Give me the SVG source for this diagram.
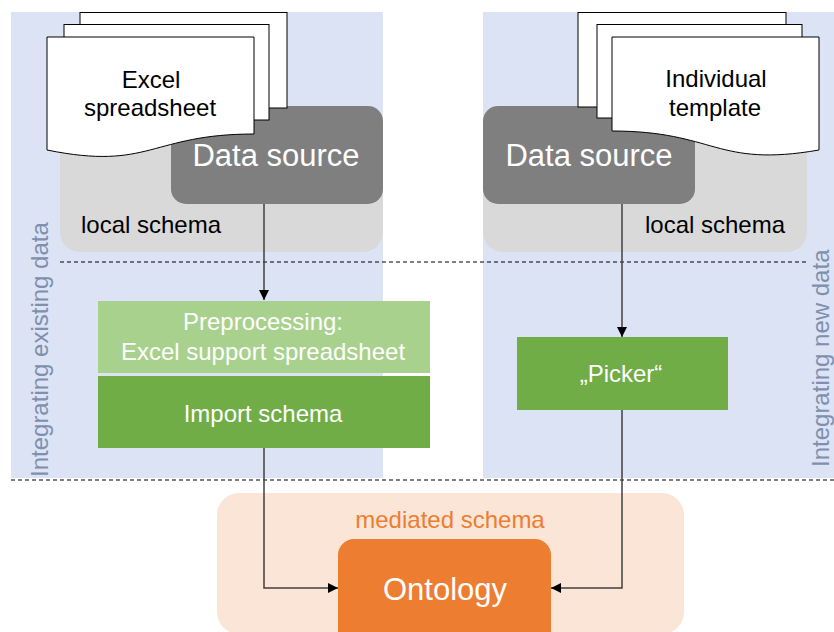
<svg xmlns="http://www.w3.org/2000/svg" width="834" height="632" viewBox="0 0 834 632">
  <defs>
    <marker id="arrow" viewBox="0 0 10 10" refX="10" refY="5" markerWidth="10" markerHeight="10" markerUnits="userSpaceOnUse" orient="auto">
      <path d="M0,0 L10,5 L0,10 Z" fill="#000"/>
    </marker>
    <style>
      text { font-family: "Liberation Sans", Arial, sans-serif; }
      .panel { fill: #DCE3F4; }
      .schema { fill: #D9D9D9; }
      .source { fill: #7F7F7F; }
      .doc { fill: #FFFFFF; stroke: #000; stroke-width: 1; }
      .sep { stroke: #000; stroke-width: 1; stroke-dasharray: 4 3; fill: none; }
      .conn { stroke: #404040; stroke-width: 1.5; fill: none; }
      .t24 { font-size: 24px; text-anchor: middle; }
      .t31 { font-size: 31px; text-anchor: middle; fill: #FFFFFF; }
      .side { font-size: 24px; fill: #7E90AE; }
    </style>
  </defs>

  <!-- background panels -->
  <g id="panels">
    <rect class="panel" x="11" y="12" width="372" height="466"/>
    <rect class="panel" x="483" y="12" width="351" height="466"/>
  </g>

  <!-- separators -->
  <g id="separators">
    <line class="sep" x1="60" y1="262" x2="809" y2="262"/>
    <line class="sep" x1="11" y1="480" x2="834" y2="480"/>
  </g>

  <!-- left source -->
  <g id="left-source">
    <rect class="schema" x="60" y="106" width="323" height="146" rx="20"/>
    <rect class="source" x="171" y="106" width="212" height="98" rx="15"/>
    <text class="t31" x="276" y="166">Data source</text>
    <text class="t24" x="151" y="233">local schema</text>
  </g>

  <g id="left-docs">
    <rect class="doc" x="80" y="12.5" width="207" height="95.5"/>
    <rect class="doc" x="64" y="24.5" width="205" height="95.5"/>
    <path class="doc" d="M47,37 H254 V134 C150.5,134 150.5,171 47,150 Z"/>
    <text class="t24" x="151" y="88">Excel</text>
    <text class="t24" x="150" y="116">spreadsheet</text>
  </g>

  <!-- right source -->
  <g id="right-source">
    <rect class="schema" x="483" y="106" width="324" height="146" rx="20"/>
    <rect class="source" x="483" y="106" width="212" height="98" rx="15"/>
    <text class="t31" x="589" y="166">Data source</text>
    <text class="t24" x="715" y="233">local schema</text>
  </g>

  <g id="right-docs">
    <rect class="doc" x="578" y="12.5" width="208" height="94.5"/>
    <rect class="doc" x="597" y="24.5" width="205" height="93.5"/>
    <path class="doc" d="M819,37 H612 V131 C715.5,131 715.5,168 819,150 Z"/>
    <text class="t24" x="716" y="87">Individual</text>
    <text class="t24" x="715" y="116">template</text>
  </g>

  <!-- processing steps -->
  <g id="preprocessing">
    <rect x="98" y="301" width="332" height="72" fill="#A9D18E"/>
    <text class="t24" x="263" y="330" fill="#FFFFFF">Preprocessing:</text>
    <text class="t24" x="263" y="360" fill="#FFFFFF">Excel support spreadsheet</text>
  </g>

  <g id="import-schema">
    <rect x="98" y="376" width="332" height="72" fill="#70AD47"/>
    <text class="t24" x="263" y="422" fill="#FFFFFF">Import schema</text>
  </g>

  <g id="picker">
    <rect x="517" y="337" width="211" height="73" fill="#70AD47"/>
    <text class="t24" x="621" y="382" fill="#FFFFFF">„Picker“</text>
  </g>

  <!-- mediated schema -->
  <g id="mediated-schema">
    <rect x="217" y="493" width="467" height="141" rx="22" fill="#FBE5D6"/>
    <text class="t24" x="450" y="528" fill="#ED7D31">mediated schema</text>
  </g>

  <g id="ontology">
    <rect x="338" y="539" width="213" height="110" rx="16" fill="#ED7D31"/>
    <text class="t31" x="445" y="600">Ontology</text>
  </g>

  <!-- side labels -->
  <g id="side-labels">
    <text class="side" transform="translate(48,477) rotate(-90)">Integrating existing data</text>
    <text class="side" transform="translate(829,467) rotate(-90)">Integrating new data</text>
  </g>

  <!-- connectors -->
  <g id="connectors">
    <path class="conn" d="M264,204 V300" marker-end="url(#arrow)"/>
    <path class="conn" d="M622,204 V337" marker-end="url(#arrow)"/>
    <path class="conn" d="M264,448 V588 H338" marker-end="url(#arrow)"/>
    <path class="conn" d="M622,410 V588 H551" marker-end="url(#arrow)"/>
  </g>
</svg>
